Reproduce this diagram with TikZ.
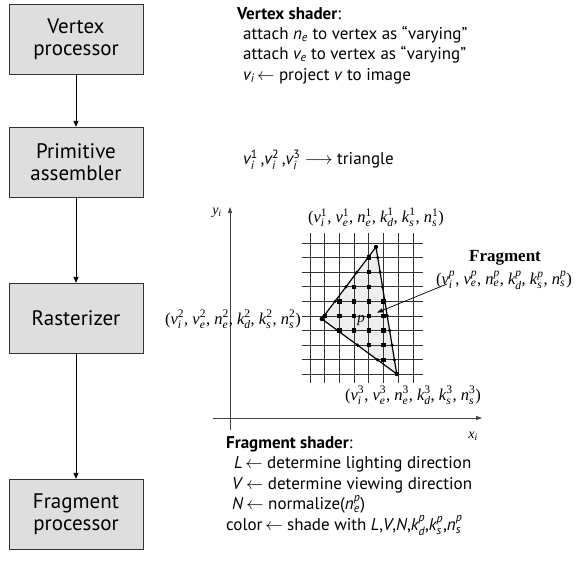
\documentclass[tikz,border=0pt]{standalone}
\usepackage{fontspec}
\usepackage{amsmath}
\setmainfont{PT Sans}
\newfontfamily\rastfont{Liberation Serif}
\usetikzlibrary{arrows.meta,calc}

\definecolor{stageGray}{RGB}{222,222,222}
\definecolor{triGray}{RGB}{238,238,238}

% variable with subscript (and superscript)
\newcommand\svar[2]{\ensuremath{\text{\itshape #1}_{\text{\itshape #2}}}}
\newcommand\fvar[3]{\ensuremath{\text{\itshape #1}_{\text{\itshape #2}}^{\text{#3}}}}

\begin{document}
\begin{tikzpicture}[x=1pt, y=-1pt,
   stage/.style={draw=black!80, fill=stageGray, minimum width=134pt, minimum height=70pt,
             align=center, font=\fontsize{21}{22}\selectfont},
   flow/.style={-{Triangle[length=6pt,width=5pt]}, line width=0.7pt},
   note/.style={anchor=north west, align=left, inner sep=0pt, font=\fontsize{17}{20}\selectfont},
   rast/.style={inner sep=1pt, font=\rastfont\fontsize{16.5}{18}\selectfont},
   axis/.style={black!75, line width=0.7pt, -{Triangle[length=6pt,width=4pt]}},
   gridline/.style={black!80, line width=0.8pt},
   edge/.style={black, line width=1.2pt, line join=round},
   pointer/.style={line width=0.7pt, -{Triangle[length=6pt,width=4pt]}, shorten >=9pt}]

  \useasboundingbox (0,0) rectangle (577,561);

  % ===== pipeline stages =====
  \node[stage] (vproc) at (76,39) {Vertex\\processor};
  \node[stage] (passm) at (76,162) {Primitive\\assembler};
  \node[stage] (rast) at (76,318) {Rasterizer};
  \node[stage] (fproc) at (76,514) {Fragment\\processor};
  \draw[flow] (vproc) -- (passm);
  \draw[flow] (passm) -- (rast);
  \draw[flow] (rast) -- (fproc);

  % ===== vertex shader =====
  \node[note] (vshader) at (237,7) {\textbf{Vertex shader}:\\
    \hspace*{6pt}attach \svar{n}{e} to vertex as “varying”\\
    \hspace*{6pt}attach \svar{v}{e} to vertex as “varying”\\[1pt]
    \hspace*{6pt}\svar{v}{i}\,$\leftarrow$ project \textit{v} to image};
  \node[note, anchor=west] (assemble) at (243,160)
    {\fvar{v}{i}{1}\,,\fvar{v}{i}{2}\,,\fvar{v}{i}{3} $\longrightarrow$ triangle};

  % ===== image plane =====
  \coordinate (xfrom) at (213,418);
  \coordinate (xto) at (482,418);
  \coordinate (yfrom) at (230,430);
  \coordinate (yto) at (230,207);
  \draw[axis] (xfrom) -- (xto);
  \draw[axis] (yfrom) -- (yto);
  \node[rast, font=\rastfont\itshape\fontsize{14}{16}\selectfont] (ylbl) at (217,213) {y\textsubscript{i}};
  \node[rast, font=\rastfont\itshape\fontsize{14}{16}\selectfont] (xlbl) at (473,436) {x\textsubscript{i}};

  \begin{scope}[shift={(310,243)}, x=14.7pt, y=-14.6pt]
    \coordinate (A) at (4.49,0.27);
    \coordinate (B) at (0.8,5.2);
    \coordinate (C) at (5.9,8.97);
    \coordinate (pfrag) at (4,5);
    \fill[triGray] (A) -- (B) -- (C) -- cycle;
    \foreach \c in {0,...,7}
      \draw[gridline] (\c,-0.68) -- (\c,9.6);
    \foreach \r in {0,...,9}
      \draw[gridline] (-0.57,\r) -- (7.7,\r);
    \draw[edge] (A) -- (B) -- (C) -- cycle;
    % span ends
    \foreach \r in {1,...,5}
      \fill ($(A)!{(\r-0.27)/4.93}!(B)$) circle (1.8pt);
    \foreach \r in {6,7,8}
      \fill ($(B)!{(\r-5.2)/3.77}!(C)$) circle (1.8pt);
    \foreach \r in {1,...,8}
      \fill ($(A)!{(\r-0.27)/8.7}!(C)$) circle (1.8pt);
    % fragments
    \foreach \c/\r in {4/1, 4/2, 3/3, 4/3, 2/4, 3/4, 4/4, 5/4, 1/5, 2/5, 3/5, 4/5, 5/5,
                       2/6, 3/6, 4/6, 5/6, 4/7, 5/7, 5/8}
      \fill (\c,\r) ++(-2.2pt,-2.2pt) rectangle ++(4.4pt,4.4pt);
    \foreach \v in {A,B,C}
      \fill (\v) circle (2.2pt);
  \end{scope}

  \node[rast, anchor=south] (v1lbl) at (376,228)
    {(\fvar{v}{i}{1}, \fvar{v}{e}{1}, \fvar{n}{e}{1}, \fvar{k}{d}{1}, \fvar{k}{s}{1}, \fvar{n}{s}{1})};
  \node[rast, anchor=east] (v2lbl) at (302,319)
    {(\fvar{v}{i}{2}, \fvar{v}{e}{2}, \fvar{n}{e}{2}, \fvar{k}{d}{2}, \fvar{k}{s}{2}, \fvar{n}{s}{2})};
  \node[rast] (v3lbl) at (413,395)
    {(\fvar{v}{i}{3}, \fvar{v}{e}{3}, \fvar{n}{e}{3}, \fvar{k}{d}{3}, \fvar{k}{s}{3}, \fvar{n}{s}{3})};
  \node[rast, font=\rastfont\bfseries\fontsize{17}{19}\selectfont] (fragtitle) at (505,258) {Fragment};
  \node[rast] (fragvals) at (504,280)
    {(\fvar{v}{i}{\itshape p}, \fvar{v}{e}{\itshape p}, \fvar{n}{e}{\itshape p}, \fvar{k}{d}{\itshape p}, \fvar{k}{s}{\itshape p}, \fvar{n}{s}{\itshape p})};
  \node[rast, font=\rastfont\itshape\fontsize{15}{17}\selectfont] (plbl) at (361,321) {p};
  \draw[pointer] ([xshift=12pt,yshift=-4pt]fragvals.west) -- (pfrag);

  % ===== fragment shader =====
  \node[note, font=\fontsize{17}{20.5}\selectfont] (fshader) at (226,436) {\textbf{Fragment shader}:\\
    \hspace*{8pt}\textit{L}\,$\leftarrow$ determine lighting direction\\
    \hspace*{6pt}\textit{V}\,$\leftarrow$ determine viewing direction\\
    \hspace*{6pt}\textit{N}\,$\leftarrow$ normalize(\fvar{n}{e}{\itshape p})\\
    color\,$\leftarrow$ shade with \textit{L},\textit{V},\textit{N},\fvar{k}{d}{\itshape p},\fvar{k}{s}{\itshape p},\fvar{n}{s}{\itshape p}};

\end{tikzpicture}
\end{document}
